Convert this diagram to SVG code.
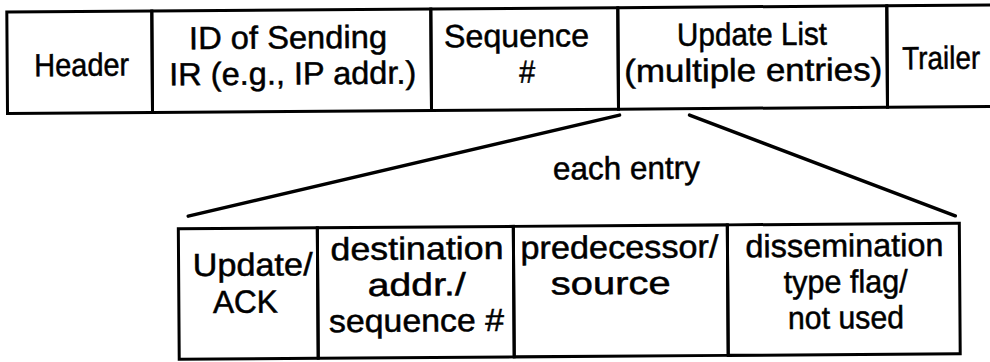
<svg xmlns="http://www.w3.org/2000/svg" width="990" height="362" viewBox="0 0 990 362">
<style>
.box{fill:none;stroke:#000;stroke-width:3}
.ln{fill:none;stroke:#000;stroke-width:3.5;stroke-linecap:round}
.t{font-family:"Liberation Sans",Arial,sans-serif;font-size:32px;fill:#000;stroke:#000;stroke-width:0.5}
</style>
<rect width="990" height="362" fill="#fff"/>
<g transform="rotate(-0.4 495 181)">
<g id="header"><rect class="box" x="8" y="8.5" width="145" height="101.5"/><text class="t" x="35" y="73" textLength="95" lengthAdjust="spacingAndGlyphs">Header</text></g>
<g id="sender-id"><rect class="box" x="153" y="8.5" width="279" height="101.5"/><text class="t" x="190" y="47" textLength="198" lengthAdjust="spacingAndGlyphs">ID of Sending</text><text class="t" x="170" y="83" textLength="247" lengthAdjust="spacingAndGlyphs">IR (e.g., IP addr.)</text></g>
<g id="sequence"><rect class="box" x="432" y="8.5" width="187" height="101.5"/><text class="t" x="445" y="47" textLength="145" lengthAdjust="spacingAndGlyphs">Sequence</text><text class="t" x="520" y="83" textLength="16" lengthAdjust="spacingAndGlyphs">#</text></g>
<g id="update-list"><rect class="box" x="619" y="8.5" width="269" height="101.5"/><text class="t" x="678" y="47" textLength="150" lengthAdjust="spacingAndGlyphs">Update List</text><text class="t" x="625" y="83" textLength="258" lengthAdjust="spacingAndGlyphs">(multiple entries)</text></g>
<g id="trailer"><path class="box" d="M995,8.5 H888 V110 H995"/><text class="t" x="903" y="72" textLength="78" lengthAdjust="spacingAndGlyphs">Trailer</text></g>
<g id="connectors">
<line class="ln" x1="620" y1="116" x2="188" y2="214"/>
<line class="ln" x1="690" y1="116.5" x2="955" y2="219"/>
</g>
<text class="t" x="553" y="180" textLength="147" lengthAdjust="spacingAndGlyphs">each entry</text>
<g id="update-ack"><rect class="box" x="178" y="226.5" width="139" height="130.5"/><text class="t" x="192" y="274" textLength="120" lengthAdjust="spacingAndGlyphs">Update/</text><text class="t" x="212" y="311" textLength="65" lengthAdjust="spacingAndGlyphs">ACK</text></g>
<g id="destination"><rect class="box" x="317" y="226.5" width="196" height="130.5"/><text class="t" x="330" y="259" textLength="173" lengthAdjust="spacingAndGlyphs">destination</text><text class="t" x="367" y="295" textLength="98" lengthAdjust="spacingAndGlyphs">addr./</text><text class="t" x="328" y="331" textLength="175" lengthAdjust="spacingAndGlyphs">sequence #</text></g>
<g id="predecessor"><rect class="box" x="513" y="226.5" width="214" height="130.5"/><text class="t" x="520" y="259" textLength="198" lengthAdjust="spacingAndGlyphs">predecessor/</text><text class="t" x="550" y="295" textLength="120" lengthAdjust="spacingAndGlyphs">source</text></g>
<g id="dissemination"><rect class="box" x="727" y="226.5" width="232" height="130.5"/><text class="t" x="745" y="259" textLength="198" lengthAdjust="spacingAndGlyphs">dissemination</text><text class="t" x="783" y="295" textLength="124" lengthAdjust="spacingAndGlyphs">type flag/</text><text class="t" x="787" y="331" textLength="116" lengthAdjust="spacingAndGlyphs">not used</text></g>
</g>
</svg>
